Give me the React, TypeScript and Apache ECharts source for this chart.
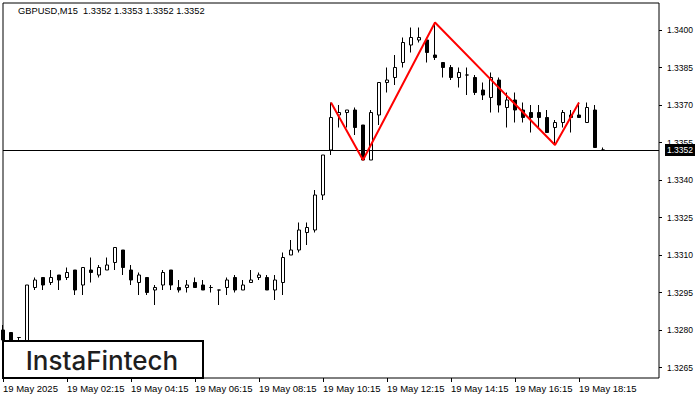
import React, { useEffect, useRef } from "react";
import * as echarts from "echarts";

// ---- data (GBPUSD M15, 19 May 2025) ----
const opens = [
  1.3280, 1.3279, 1.3277, 1.3275, 1.3297, 1.3301, 1.3299, 1.3302, 1.3301, 1.3304,
  1.3298, 1.3304, 1.3302, 1.3304, 1.3307, 1.3312, 1.3304, 1.3299, 1.3301, 1.3296,
  1.3298, 1.3304, 1.3297, 1.3297, 1.3299, 1.3298, 1.3297, 1.3296, 1.3297, 1.3301,
  1.3296, 1.3299, 1.3301, 1.3301, 1.3296, 1.3299, 1.3310, 1.3312, 1.3319, 1.3320,
  1.3334, 1.3352, 1.3366, 1.3367, 1.3368, 1.3362, 1.3348, 1.3366, 1.3379, 1.3381,
  1.3387, 1.3394, 1.3396, 1.3396, 1.3390, 1.3387, 1.3385, 1.3381, 1.3382, 1.3381,
  1.3376, 1.3373, 1.3380, 1.3369, 1.3372, 1.3368, 1.3367, 1.3367, 1.3365, 1.3361,
  1.3363, 1.3366, 1.3366, 1.3363, 1.3368, 1.3352,
];
const highs = [
  1.3282, 1.3279, 1.3277, 1.3298, 1.3301, 1.3301, 1.3304, 1.3302, 1.3305, 1.3304,
  1.3305, 1.3309, 1.3306, 1.3309, 1.3313, 1.3312, 1.3306, 1.3303, 1.3301, 1.3298,
  1.3304, 1.3304, 1.3300, 1.3300, 1.3301, 1.3300, 1.3298, 1.3296, 1.3301, 1.3302,
  1.3300, 1.3304, 1.3303, 1.3302, 1.3302, 1.3311, 1.3316, 1.3323, 1.3323, 1.3336,
  1.3350, 1.3371, 1.3370, 1.3368, 1.3369, 1.3362, 1.3368, 1.3379, 1.3385, 1.3390,
  1.3397, 1.3401, 1.3401, 1.3397, 1.3402, 1.3387, 1.3386, 1.3385, 1.3385, 1.3382,
  1.3379, 1.3383, 1.3381, 1.3375, 1.3375, 1.3371, 1.3370, 1.3370, 1.3368, 1.3364,
  1.3368, 1.3368, 1.3371, 1.3371, 1.3370, 1.3353,
];
const lows = [
  1.3272, 1.3272, 1.3273, 1.3273, 1.3296, 1.3296, 1.3298, 1.3296, 1.3300, 1.3294,
  1.3294, 1.3299, 1.3301, 1.3304, 1.3304, 1.3302, 1.3298, 1.3294, 1.3294, 1.3290,
  1.3296, 1.3296, 1.3295, 1.3295, 1.3297, 1.3296, 1.3295, 1.3290, 1.3294, 1.3295,
  1.3296, 1.3299, 1.3300, 1.3296, 1.3292, 1.3294, 1.3310, 1.3311, 1.3314, 1.3319,
  1.3332, 1.3350, 1.3361, 1.3361, 1.3358, 1.3348, 1.3348, 1.3362, 1.3375, 1.3378,
  1.3385, 1.3391, 1.3395, 1.3387, 1.3388, 1.3381, 1.3380, 1.3377, 1.3374, 1.3374,
  1.3372, 1.3367, 1.3367, 1.3361, 1.3363, 1.3363, 1.3359, 1.3361, 1.3359, 1.3354,
  1.3361, 1.3359, 1.3365, 1.3363, 1.3353, 1.3352,
];
const closes = [
  1.3276, 1.3274, 1.3277, 1.3298, 1.3300, 1.3298, 1.3301, 1.3300, 1.3303, 1.3296,
  1.3305, 1.3303, 1.3305, 1.3306, 1.3313, 1.3305, 1.3300, 1.3302, 1.3295, 1.3297,
  1.3303, 1.3298, 1.3296, 1.3298, 1.3297, 1.3296, 1.3297, 1.3296, 1.3300, 1.3296,
  1.3298, 1.3300, 1.3302, 1.3296, 1.3300, 1.3309, 1.3312, 1.3320, 1.3321, 1.3334,
  1.3350, 1.3365, 1.3367, 1.3368, 1.3361, 1.3348, 1.3367, 1.3379, 1.3380, 1.3385,
  1.3395, 1.3397, 1.3397, 1.3391, 1.3389, 1.3385, 1.3381, 1.3383, 1.3382, 1.3375,
  1.3374, 1.3381, 1.3370, 1.3372, 1.3368, 1.3365, 1.3365, 1.3365, 1.3359, 1.3363,
  1.3367, 1.3365, 1.3365, 1.3369, 1.3353, 1.3352,
];

// pattern (bar index, price)
const patternIdx = [41, 45, 54, 69, 72];
const patternPrice = [1.3371, 1.3348, 1.3403, 1.3354, 1.3371];

const lastPrice = 1.3352;
const headerText = "GBPUSD,M15  1.3352 1.3353 1.3352 1.3352";

const yTicks = [1.3265, 1.328, 1.3295, 1.331, 1.3325, 1.334, 1.3355, 1.337, 1.3385, 1.34];
const xTickLabels = [
  "19 May 2025", "19 May 02:15", "19 May 04:15", "19 May 06:15", "19 May 08:15",
  "19 May 10:15", "19 May 12:15", "19 May 14:15", "19 May 16:15", "19 May 18:15",
];
const xTickEvery = 8;
const totalSlots = 83; // bars plus empty right shift area

const categories: string[] = [];
for (let i = 0; i < totalSlots; i++) {
  const m = 15 + 15 * i;
  const hh = String(Math.floor(m / 60)).padStart(2, "0");
  const mm = String(m % 60).padStart(2, "0");
  categories.push(hh + ":" + mm);
}

const FONT = '"Liberation Sans", Arial, sans-serif';

export default function App() {
  const ref = useRef<HTMLDivElement>(null);
  useEffect(() => {
    if (!ref.current) return;
    const chart = echarts.init(ref.current, null, { renderer: "svg" });
    const showTick = (index: number) =>
      index % xTickEvery === 0 && index / xTickEvery < xTickLabels.length;
    chart.setOption({
      animation: false,
      backgroundColor: "#ffffff",
      grid: {
        left: 3,
        top: 3,
        width: 656,
        height: 375,
        show: true,
        borderColor: "#000",
        borderWidth: 1,
        backgroundColor: "transparent",
      },
      xAxis: {
        type: "category",
        data: categories,
        boundaryGap: false,
        axisLine: { show: false },
        axisTick: {
          show: true,
          interval: (i: number) => showTick(i),
          length: 4,
          lineStyle: { color: "#000" },
        },
        axisLabel: {
          interval: (i: number) => showTick(i),
          formatter: (_v: string, i: number) =>
            showTick(i) ? xTickLabels[i / xTickEvery] : "",
          align: "left",
          margin: 5,
          color: "#000",
          fontSize: 9.5,
          fontFamily: FONT,
        },
        splitLine: { show: false },
      },
      yAxis: {
        type: "value",
        position: "right",
        min: 1.32608,
        max: 1.34108,
        scale: true,
        axisLine: { show: false },
        axisTick: {
          show: true,
          customValues: yTicks,
          length: 3,
          lineStyle: { color: "#000" },
        },
        axisLabel: {
          customValues: yTicks,
          formatter: (v: number) => v.toFixed(4),
          margin: 8,
          color: "#000",
          fontSize: 8.5,
          fontFamily: FONT,
        },
        splitLine: { show: false },
      },
      series: [
        {
          type: "candlestick",
          data: opens.map((o, i) => [o, closes[i], lows[i], highs[i]]),
          barWidth: 4,
          clip: true,
          itemStyle: {
            color: "#ffffff",
            color0: "#000000",
            borderColor: "#000000",
            borderColor0: "#000000",
            borderColorDoji: "#000000",
            borderWidth: 1,
          },
        },
        {
          type: "line",
          data: patternIdx.map((x, i) => [x, patternPrice[i]]),
          symbol: "none",
          z: 5,
          lineStyle: { color: "#ff0000", width: 2 },
          markLine: {
            silent: true,
            precision: 4,
            symbol: ["none", "none"],
            data: [{ yAxis: lastPrice }],
            lineStyle: { color: "#000", width: 1, type: "solid" },
            label: {
              show: true,
              position: "end",
              distance: 6,
              formatter: lastPrice.toFixed(4),
              color: "#fff",
              backgroundColor: "#000",
              padding: [2, 2, 1, 2],
              fontSize: 8.5,
              fontFamily: FONT,
            },
          },
        },
      ],
      graphic: [
        {
          type: "text",
          left: 18,
          top: 6,
          style: {
            text: headerText,
            fill: "#000",
            font: "9.3px " + FONT,
          },
        },
        {
          type: "group",
          z: 100,
          children: [
            {
              type: "rect",
              shape: { x: 3, y: 341, width: 200, height: 37 },
              style: { fill: "#fff", stroke: "#000", lineWidth: 2 },
              z: 100,
            },
            {
              type: "text",
              x: 102,
              y: 360,
              z: 101,
              style: {
                text: "InstaFintech",
                fill: "#1e1e1e",
                font: '500 26px Inter, "Open Sans", sans-serif',
                align: "center",
                verticalAlign: "middle",
                textAlign: "center",
                textVerticalAlign: "middle",
              },
            },
          ],
        },
      ],
    });
    return () => chart.dispose();
  }, []);
  return (
    <div
      ref={ref}
      style={{ position: "fixed", left: 0, top: 0, width: 700, height: 400, background: "#fff" }}
    />
  );
}
